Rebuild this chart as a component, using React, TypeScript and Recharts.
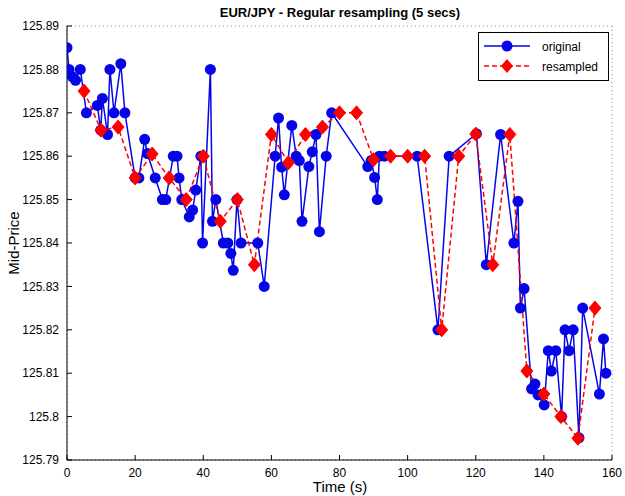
import React from 'react';
import { LineChart, Line, XAxis, YAxis, CartesianGrid } from 'recharts';

// original ticks (irregular times)
const origTime = [
  0, 0.6, 1.6, 2.5, 3.9, 5.7, 8.9, 9.9, 10.4, 11.9, 12.6, 13.8, 15.8, 17.0, 20.0, 21.1,
  22.8, 23.6, 25.9, 28.0, 29.0, 31.2, 32.3, 32.9, 33.7, 35.9, 36.9, 37.8, 39.3, 39.8,
  42.1, 42.7, 43.7, 45.9, 47.2, 48.1, 48.8, 49.9, 51.1, 56.0, 57.9, 61.1, 62.1, 63.0,
  63.8, 66.0, 67.3, 68.2, 69.0, 71.0, 72.0, 73.1, 74.1, 76.1, 77.7, 88.3, 89.3, 90.3,
  91.1, 91.7, 93.2, 102.8, 108.9, 112.2, 120.2, 123.1, 127.3, 131.2, 132.4, 133.1,
  134.2, 136.4, 137.4, 138.3, 140.1, 141.3, 142.2, 143.5, 145.2, 146.2, 147.4, 148.6,
  150.3, 151.4, 156.3, 157.5, 158.2,
];
const origPrice = [
  125.885, 125.88, 125.8783, 125.8775, 125.88, 125.87, 125.8717, 125.866, 125.8733, 125.865,
  125.88, 125.87, 125.8813, 125.87, 125.855, 125.855,
  125.8639, 125.8606, 125.855, 125.85, 125.85, 125.86, 125.86, 125.855, 125.85, 125.846,
  125.8476, 125.8522, 125.86, 125.84,
  125.88, 125.845, 125.85, 125.84, 125.84, 125.8376, 125.8337, 125.85, 125.84, 125.84,
  125.83, 125.86, 125.8688, 125.8575,
  125.8511, 125.8671, 125.86, 125.859, 125.845, 125.8576, 125.861, 125.865, 125.8426,
  125.86, 125.87, 125.8576, 125.859, 125.8551,
  125.85, 125.86, 125.86, 125.86, 125.82, 125.86, 125.8652, 125.835, 125.865, 125.84,
  125.8496, 125.825,
  125.8295, 125.8064, 125.8075, 125.805, 125.8027, 125.8152, 125.8105, 125.8152, 125.8,
  125.82, 125.8152, 125.82,
  125.7951, 125.825, 125.8052, 125.8179, 125.81,
];

// resampled every 5 s
const resampTime = [
  5, 10, 15, 20, 25, 30, 35, 40, 45, 50, 55, 60, 65, 70, 75, 80, 85, 90, 95, 100,
  105, 110, 115, 120, 125, 130, 135, 140, 145, 150, 155,
];
const resampPrice = [
  125.875, 125.866, 125.8667, 125.855, 125.8605, 125.855, 125.85, 125.86, 125.845, 125.85,
  125.835, 125.865, 125.8585, 125.865, 125.8667, 125.87, 125.87, 125.8592, 125.86, 125.86,
  125.86, 125.82, 125.86, 125.8651, 125.835, 125.865, 125.8105, 125.8052, 125.8, 125.795,
  125.825,
];

const xTicks = [0, 20, 40, 60, 80, 100, 120, 140, 160];
const yTicks = [125.79, 125.8, 125.81, 125.82, 125.83, 125.84, 125.85, 125.86, 125.87, 125.88, 125.89];

const original = origTime.map((t, i) => ({ t, v: origPrice[i] }));
const resampled = resampTime.map((t, i) => ({ t, v: resampPrice[i] }));

const BLUE = '#0505e8';
const RED = '#ff0000';
const FONT = '"Liberation Sans", Arial, Helvetica, sans-serif';

const Diamond = (props: any) => {
  const { cx, cy, index } = props;
  if (cx == null || cy == null) return null;
  return (
    <polygon
      key={`d-${index}`}
      points={`${cx},${cy - 7} ${cx + 6},${cy} ${cx},${cy + 7} ${cx - 6},${cy}`}
      fill={RED}
      stroke={RED}
    />
  );
};

const tickStyle = { fontSize: 12, fill: '#000', fontFamily: FONT };
const inTick = { stroke: '#000' };

export default function App() {
  return (
    <div style={{ position: 'absolute', left: 0, top: 0, width: 625, height: 496, background: '#fff' }}>
      <LineChart width={625} height={496} margin={{ top: 26, right: 13, bottom: 0, left: 0 }}>
        <CartesianGrid stroke="#888" strokeDasharray="1 3" />
        <XAxis
          xAxisId="b"
          dataKey="t"
          type="number"
          domain={[0, 160]}
          ticks={xTicks}
          tick={tickStyle}
          tickLine={inTick}
          tickSize={-5}
          tickMargin={13}
          axisLine={{ stroke: '#000' }}
          height={36}
          allowDataOverflow
        />
        <XAxis xAxisId="top" orientation="top" type="number" domain={[0, 160]} ticks={xTicks} tick={false} tickLine={inTick} tickSize={-5} axisLine={{ stroke: '#000' }} height={0} />
        <YAxis
          yAxisId="l"
          type="number"
          domain={[125.79, 125.89]}
          ticks={yTicks}
          tick={tickStyle}
          tickLine={inTick}
          tickSize={-5}
          tickMargin={13}
          tickFormatter={(v: number) => String(Number(v.toFixed(2)))}
          axisLine={{ stroke: '#000' }}
          width={67}
          allowDataOverflow
        />
        <YAxis yAxisId="r" orientation="right" type="number" domain={[125.79, 125.89]} ticks={yTicks} tick={false} tickLine={inTick} tickSize={-5} axisLine={{ stroke: '#000' }} width={0} />
        <Line
          xAxisId="b"
          yAxisId="l"
          data={original}
          dataKey="v"
          name="original"
          type="linear"
          stroke={BLUE}
          strokeWidth={1.5}
          dot={{ r: 5.5, fill: BLUE, stroke: BLUE, strokeWidth: 0 }}
          activeDot={false}
          isAnimationActive={false}
        />
        <Line
          xAxisId="b"
          yAxisId="l"
          data={resampled}
          dataKey="v"
          name="resampled"
          type="linear"
          stroke={RED}
          strokeWidth={1.5}
          strokeDasharray="5 3"
          dot={<Diamond />}
          activeDot={false}
          isAnimationActive={false}
        />
      </LineChart>
      <svg width={625} height={496} style={{ position: 'absolute', left: 0, top: 0, pointerEvents: 'none' }}>
        <text x={340} y={17} textAnchor="middle" fontSize={13} fontWeight="bold" fontFamily={FONT} fill="#000">
          EUR/JPY - Regular resampling (5 secs)
        </text>
        <text x={340} y={492} textAnchor="middle" fontSize={15} fontFamily={FONT} fill="#000">
          Time (s)
        </text>
        <text x={0} y={0} transform="translate(19,243) rotate(-90)" textAnchor="middle" fontSize={15} fontFamily={FONT} fill="#000">
          Mid-Price
        </text>
        <g transform="translate(478,32)">
          <rect x={0.5} y={0.5} width={130} height={48} fill="#fff" stroke="#000" />
          <line x1={6} y1={14} x2={52} y2={14} stroke={BLUE} strokeWidth={1.5} />
          <circle cx={29} cy={14} r={5.5} fill={BLUE} />
          <text x={64} y={18.5} fontSize={12} fontFamily={FONT} fill="#000">original</text>
          <line x1={6} y1={34} x2={52} y2={34} stroke={RED} strokeWidth={1.5} strokeDasharray="5 3" />
          <polygon points="29,27 35,34 29,41 23,34" fill={RED} />
          <text x={64} y={38.5} fontSize={12} fontFamily={FONT} fill="#000">resampled</text>
        </g>
      </svg>
    </div>
  );
}
